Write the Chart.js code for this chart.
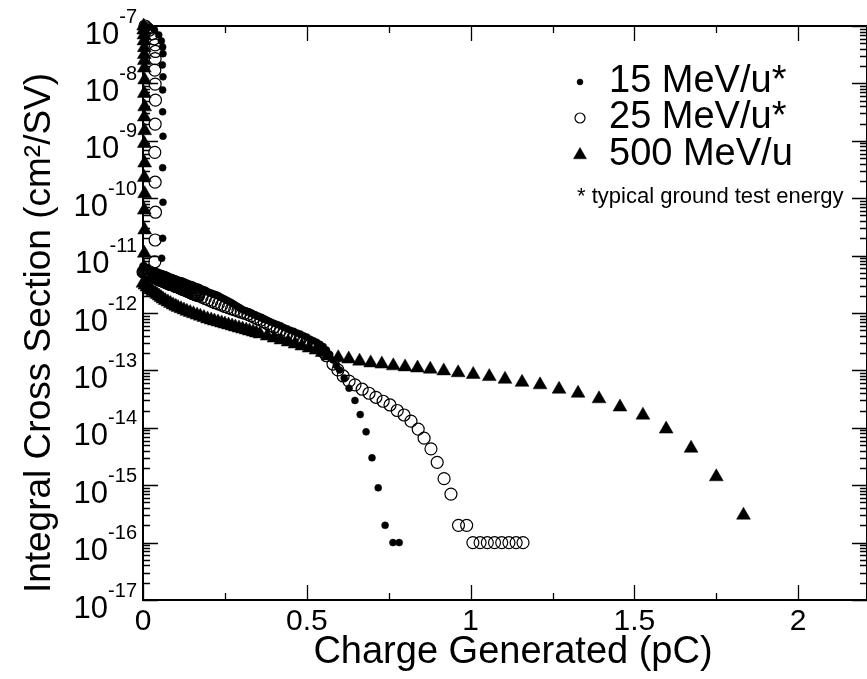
<!DOCTYPE html>
<html>
<head>
<meta charset="utf-8">
<script src="https://cdn.jsdelivr.net/npm/chart.js@4.4.0/dist/chart.umd.min.js"></script>
<style>
  html, body { margin: 0; padding: 0; background: #fff; }
  canvas { display: block; }
</style>
</head>
<body>
<canvas id="xsecChart" width="867" height="679"></canvas>
<script>
// charge generated (pC) and integral cross section (cm^2/SV)
const charge15 = [
  0.008, 0.02, 0.035, 0.048, 0.056, 0.06, 0.061, 0.059, 0.061, 0.06, 0.06, 0.061, 0.06, 0.061, 0.06, 0.057,
  0.00, 0.01, 0.02, 0.03, 0.04, 0.05, 0.06, 0.07, 0.08, 0.09,
  0.10, 0.11, 0.12, 0.13, 0.14, 0.15, 0.16, 0.17, 0.18, 0.19,
  0.20, 0.21, 0.22, 0.23, 0.24, 0.25, 0.26, 0.27, 0.28, 0.29,
  0.30, 0.31, 0.32, 0.33, 0.34, 0.35, 0.36, 0.37, 0.38, 0.39,
  0.40, 0.41, 0.42, 0.43, 0.44, 0.45, 0.46, 0.47, 0.48, 0.49,
  0.50, 0.51, 0.52, 0.53, 0.54, 0.55, 0.56, 0.57, 0.58, 0.59, 0.60,
  0.614, 0.629, 0.647, 0.663, 0.681, 0.699, 0.718, 0.739, 0.763, 0.782,
  0.005, 0.015, 0.025, 0.035, 0.045, 0.055, 0.065, 0.075, 0.085, 0.095,
  0.105, 0.115, 0.125, 0.135, 0.145, 0.155, 0.165, 0.175, 0.185, 0.195,
  0.205, 0.215, 0.225, 0.235, 0.245, 0.255, 0.265, 0.275, 0.285, 0.295
];
const sigma15 = [
  1.0e-7, 9.5e-8, 8.5e-8, 7.0e-8, 5.5e-8, 4.3e-8, 3.3e-8, 2.1e-8, 1.3e-8, 7.7e-9, 3.2e-9, 1.2e-9, 3.4e-10, 8.5e-11, 2.0e-11, 9.0e-12,
  6.6e-12, 6.2e-12, 5.8e-12, 5.5e-12, 5.3e-12, 5.0e-12, 4.8e-12, 4.6e-12, 4.3e-12, 4.1e-12,
  3.9e-12, 3.7e-12, 3.6e-12, 3.4e-12, 3.2e-12, 3.1e-12, 2.9e-12, 2.8e-12, 2.6e-12, 2.5e-12,
  2.3e-12, 2.2e-12, 2.1e-12, 2.0e-12, 1.85e-12, 1.73e-12, 1.62e-12, 1.51e-12, 1.39e-12, 1.28e-12,
  1.19e-12, 1.11e-12, 1.04e-12, 9.8e-13, 9.2e-13, 8.7e-13, 8.2e-13, 7.7e-13, 7.4e-13, 7.0e-13,
  6.6e-13, 6.3e-13, 6.0e-13, 5.6e-13, 5.3e-13, 5.0e-13, 4.8e-13, 4.5e-13, 4.3e-13, 4.0e-13,
  3.8e-13, 3.5e-13, 3.3e-13, 3.1e-13, 2.85e-13, 2.6e-13, 2.26e-13, 1.89e-13, 1.52e-13, 1.22e-13, 1.02e-13,
  7.4e-14, 4.9e-14, 3.0e-14, 1.7e-14, 8.5e-15, 3.0e-15, 9.0e-16, 2.0e-16, 1.0e-16, 1.0e-16,
  6.4e-12, 6.0e-12, 5.65e-12, 5.4e-12, 5.15e-12, 4.9e-12, 4.7e-12, 4.45e-12, 4.2e-12, 4.0e-12,
  3.8e-12, 3.65e-12, 3.5e-12, 3.3e-12, 3.15e-12, 3.0e-12, 2.85e-12, 2.7e-12, 2.55e-12, 2.4e-12,
  2.25e-12, 2.15e-12, 2.05e-12, 1.92e-12, 1.79e-12, 1.67e-12, 1.56e-12, 1.45e-12, 1.33e-12, 1.23e-12
];

const charge25 = [
  0.006, 0.012, 0.02, 0.028, 0.034, 0.037, 0.038, 0.037, 0.036, 0.037, 0.038, 0.037, 0.036, 0.037, 0.038, 0.037, 0.036,
  0.00, 0.01, 0.02, 0.03, 0.04, 0.05, 0.06, 0.07, 0.08, 0.09,
  0.10, 0.11, 0.12, 0.13, 0.14, 0.15, 0.16, 0.17, 0.18, 0.19,
  0.20, 0.21, 0.22, 0.23, 0.24, 0.25, 0.26, 0.27, 0.28, 0.29,
  0.30, 0.31, 0.32, 0.33, 0.34, 0.35, 0.36, 0.37, 0.38, 0.39,
  0.40, 0.41, 0.42, 0.43, 0.44, 0.45, 0.46, 0.47, 0.48, 0.49,
  0.50, 0.51, 0.52, 0.53, 0.54, 0.55, 0.56,
  0.58, 0.595, 0.611, 0.629, 0.647, 0.669, 0.69, 0.711, 0.733, 0.754,
  0.776, 0.797, 0.818, 0.84, 0.858, 0.879, 0.898, 0.919, 0.94,
  0.963, 0.988, 1.007, 1.029, 1.051, 1.073, 1.095, 1.117, 1.139, 1.16,
  0.005, 0.015, 0.025, 0.035, 0.045, 0.055, 0.065, 0.075, 0.085, 0.095,
  0.105, 0.115, 0.125, 0.135, 0.145, 0.155, 0.165,
  0.0025, 0.0075, 0.0125, 0.0175, 0.0225, 0.0275, 0.0325, 0.0375, 0.0425, 0.0475,
  0.0525, 0.0575, 0.0625, 0.0675, 0.0725, 0.0775, 0.0825, 0.0875, 0.0925, 0.0975,
  0.1025, 0.1075, 0.1125, 0.1175, 0.1225, 0.1275, 0.1325, 0.1375, 0.1425, 0.1475,
  0.1525, 0.1575, 0.1625, 0.1675
];
const sigma25 = [
  1.0e-7, 9.3e-8, 8.5e-8, 7.3e-8, 6.0e-8, 4.7e-8, 3.6e-8, 2.7e-8, 1.7e-8, 9.7e-9, 5.1e-9, 1.95e-9, 6.3e-10, 1.9e-10, 5.7e-11, 1.87e-11, 7.8e-12,
  5.2e-12, 4.9e-12, 4.6e-12, 4.3e-12, 4.1e-12, 3.8e-12, 3.6e-12, 3.4e-12, 3.2e-12, 3.1e-12,
  2.9e-12, 2.8e-12, 2.6e-12, 2.5e-12, 2.35e-12, 2.2e-12, 2.1e-12, 2.0e-12, 1.89e-12, 1.79e-12,
  1.69e-12, 1.6e-12, 1.51e-12, 1.44e-12, 1.37e-12, 1.3e-12, 1.24e-12, 1.18e-12, 1.13e-12, 1.08e-12,
  1.03e-12, 9.9e-13, 9.5e-13, 8.9e-13, 8.4e-13, 7.9e-13, 7.5e-13, 7.0e-13, 6.5e-13, 6.1e-13,
  5.7e-13, 5.3e-13, 5.0e-13, 4.7e-13, 4.4e-13, 4.2e-13, 3.9e-13, 3.7e-13, 3.5e-13, 3.3e-13,
  3.15e-13, 3.0e-13, 2.8e-13, 2.6e-13, 2.4e-13, 2.1e-13, 1.8e-13,
  1.29e-13, 1.02e-13, 8.0e-14, 6.5e-14, 5.6e-14, 4.7e-14, 4.0e-14, 3.4e-14, 2.9e-14, 2.5e-14,
  2.0e-14, 1.67e-14, 1.31e-14, 9.5e-15, 6.6e-15, 4.3e-15, 2.5e-15, 1.3e-15, 7.0e-16,
  2.0e-16, 2.0e-16, 1.0e-16, 1.0e-16, 1.0e-16, 1.0e-16, 1.0e-16, 1.0e-16, 1.0e-16, 1.0e-16,
  5.05e-12, 4.75e-12, 4.45e-12, 4.2e-12, 3.95e-12, 3.7e-12, 3.5e-12, 3.3e-12, 3.15e-12, 3.0e-12,
  2.85e-12, 2.7e-12, 2.55e-12, 2.42e-12, 2.27e-12, 2.15e-12, 2.05e-12,
  5.12e-12, 4.97e-12, 4.82e-12, 4.67e-12, 4.52e-12, 4.37e-12, 4.25e-12, 4.15e-12, 4.02e-12, 3.87e-12,
  3.75e-12, 3.65e-12, 3.55e-12, 3.45e-12, 3.35e-12, 3.25e-12, 3.17e-12, 3.12e-12, 3.05e-12, 2.95e-12,
  2.87e-12, 2.82e-12, 2.75e-12, 2.65e-12, 2.57e-12, 2.52e-12, 2.46e-12, 2.38e-12, 2.31e-12, 2.23e-12,
  2.17e-12, 2.12e-12, 2.07e-12, 2.02e-12
];

const charge500 = [
  0.002, 0.002, 0.003, 0.003, 0.004, 0.004, 0.004,
  0.004, 0.005, 0.004, 0.005, 0.004, 0.005, 0.004, 0.005, 0.004, 0.005, 0.004, 0.005, 0.004, 0.003,
  0.0, 0.012, 0.024, 0.037, 0.049, 0.061, 0.076, 0.092, 0.107, 0.125,
  0.144, 0.165, 0.186, 0.208, 0.229, 0.25, 0.272, 0.293, 0.315, 0.336,
  0.357, 0.379, 0.4, 0.421, 0.443, 0.464, 0.485, 0.507, 0.528, 0.547,
  0.565, 0.596, 0.628, 0.661, 0.695, 0.729, 0.764, 0.80, 0.838, 0.877,
  0.918, 0.962, 1.008, 1.057, 1.105, 1.157, 1.212, 1.27, 1.328, 1.392,
  1.456, 1.526, 1.597, 1.673, 1.75, 1.833,
  0.006, 0.018, 0.030, 0.043, 0.055, 0.068, 0.084, 0.100, 0.116, 0.134,
  0.154, 0.175, 0.197, 0.218, 0.24, 0.261, 0.282, 0.304, 0.325, 0.346
];
const sigma500 = [
  1.0e-7, 8.5e-8, 7.0e-8, 5.5e-8, 4.2e-8, 3.2e-8, 2.5e-8,
  1.85e-8, 1.15e-8, 6.7e-9, 3.9e-9, 2.6e-9, 1.5e-9, 9.0e-10, 4.1e-10, 2.3e-10, 1.2e-10, 6.2e-11, 2.8e-11, 1.1e-11, 6.3e-12,
  3.3e-12, 2.84e-12, 2.52e-12, 2.23e-12, 1.98e-12, 1.75e-12, 1.56e-12, 1.38e-12, 1.25e-12, 1.13e-12,
  1.02e-12, 9.2e-13, 8.35e-13, 7.55e-13, 6.97e-13, 6.43e-13, 5.94e-13, 5.48e-13, 5.06e-13, 4.67e-13,
  4.31e-13, 3.97e-13, 3.66e-13, 3.39e-13, 3.13e-13, 2.88e-13, 2.66e-13, 2.45e-13, 2.26e-13, 2.05e-13,
  1.78e-13, 1.66e-13, 1.58e-13, 1.45e-13, 1.35e-13, 1.29e-13, 1.2e-13, 1.15e-13, 1.1e-13, 1.05e-13,
  9.8e-14, 9.1e-14, 8.5e-14, 7.8e-14, 7.0e-14, 6.2e-14, 5.6e-14, 4.7e-14, 4.0e-14, 3.2e-14,
  2.3e-14, 1.66e-14, 9.5e-15, 4.4e-15, 1.4e-15, 3.0e-16,
  3.06e-12, 2.68e-12, 2.37e-12, 2.1e-12, 1.86e-12, 1.65e-12, 1.47e-12, 1.31e-12, 1.19e-12, 1.07e-12,
  9.7e-13, 8.8e-13, 7.9e-13, 7.25e-13, 6.7e-13, 6.2e-13, 5.7e-13, 5.27e-13, 4.86e-13, 4.49e-13
];

const seriesLabels = ['15 MeV/u*', '25 MeV/u*', '500 MeV/u'];
const footnote = '* typical ground test energy';
const xTitle = 'Charge Generated (pC)';
const yTitle = 'Integral Cross Section (cm\u00B2/SV)';
const xMajorTicks = [0, 0.5, 1, 1.5, 2];
const xTickLabels = ['0', '0.5', '1', '1.5', '2'];
const xMinorTicks = [0.25, 0.75, 1.25, 1.75];
const yExponents = [-17, -16, -15, -14, -13, -12, -11, -10, -9, -8, -7];

const FONT = "'Liberation Sans', Arial, Helvetica, sans-serif";

const pts = (xs, ys) => xs.map((q, i) => ({ x: q, y: ys[i] }));

const markerStyles = [
  { pointStyle: 'circle', radius: 3.5, fill: '#000', borderWidth: 0.5 },
  { pointStyle: 'circle', radius: 6, fill: 'rgba(0,0,0,0)', borderWidth: 1.2 },
  { pointStyle: 'triangle', radius: 8, fill: '#000', borderWidth: 0.5 }
];

const framePlugin = {
  id: 'graceFrame',
  afterDatasetsDraw(chart) {
    const { ctx, chartArea: a } = chart;
    const xs = chart.scales.x;
    const ys = chart.scales.y;
    ctx.save();
    ctx.strokeStyle = '#000';
    ctx.fillStyle = '#000';

    // frame
    ctx.lineWidth = 2;
    ctx.strokeRect(a.left, a.top, a.right - a.left, a.bottom - a.top);

    // inward ticks on all four sides
    ctx.lineWidth = 1.3;
    ctx.beginPath();
    const vTick = (v, len) => {
      const px = Math.round(xs.getPixelForValue(v)) + 0.5;
      ctx.moveTo(px, a.bottom); ctx.lineTo(px, a.bottom - len);
      ctx.moveTo(px, a.top); ctx.lineTo(px, a.top + len);
    };
    const hTick = (v, len) => {
      const py = Math.round(ys.getPixelForValue(v)) + 0.5;
      ctx.moveTo(a.left, py); ctx.lineTo(a.left + len, py);
      ctx.moveTo(a.right, py); ctx.lineTo(a.right - len, py);
    };
    xMajorTicks.forEach(v => vTick(v, 15));
    xMinorTicks.forEach(v => vTick(v, 7));
    yExponents.forEach((e, i) => {
      hTick(Math.pow(10, e), 15);
      if (i < yExponents.length - 1) {
        for (let m = 2; m <= 9; m++) hTick(m * Math.pow(10, e), 7);
      }
    });
    ctx.stroke();

    // x tick labels
    ctx.font = '30px ' + FONT;
    ctx.textAlign = 'center';
    ctx.textBaseline = 'middle';
    xMajorTicks.forEach((v, i) => {
      ctx.fillText(xTickLabels[i], xs.getPixelForValue(v), 622);
    });

    // y tick labels 10^n
    ctx.textAlign = 'right';
    yExponents.forEach(e => {
      const py = ys.getPixelForValue(Math.pow(10, e));
      const sup = String(e);
      ctx.font = '20px ' + FONT;
      const supW = ctx.measureText(sup).width;
      ctx.fillText(sup, 137, py - 9);
      ctx.font = '31px ' + FONT;
      ctx.fillText('10', 137 - supW, py + 9);
    });

    // axis titles
    ctx.textAlign = 'center';
    ctx.font = '38px ' + FONT;
    ctx.fillText(xTitle, 513, 653);
    ctx.save();
    ctx.translate(40, 333);
    ctx.rotate(-Math.PI / 2);
    ctx.font = '37px ' + FONT;
    ctx.fillText(yTitle, 0, 0);
    ctx.restore();

    // legend
    const rows = [82, 118, 155];
    rows.forEach((ry, i) => {
      const s = markerStyles[i];
      ctx.fillStyle = s.fill;
      ctx.strokeStyle = '#000';
      ctx.lineWidth = s.borderWidth;
      Chart.helpers.drawPoint(ctx, {
        pointStyle: s.pointStyle,
        radius: i === 0 ? 3 : (i === 1 ? 5 : 7.5),
        rotation: 0,
        borderWidth: s.borderWidth
      }, 580, ry);
      ctx.fillStyle = '#000';
      ctx.font = '38px ' + FONT;
      ctx.textAlign = 'left';
      ctx.fillText(seriesLabels[i], 609, ry);
    });
    ctx.font = '22px ' + FONT;
    ctx.fillText(footnote, 577, 197);

    ctx.restore();
  }
};

new Chart(document.getElementById('xsecChart'), {
  type: 'scatter',
  data: {
    datasets: [
      { label: seriesLabels[0], data: pts(charge15, sigma15) },
      { label: seriesLabels[1], data: pts(charge25, sigma25) },
      { label: seriesLabels[2], data: pts(charge500, sigma500) }
    ].map((ds, i) => Object.assign(ds, {
      pointStyle: markerStyles[i].pointStyle,
      pointRadius: markerStyles[i].radius,
      pointHoverRadius: markerStyles[i].radius,
      pointBackgroundColor: markerStyles[i].fill,
      backgroundColor: markerStyles[i].fill,
      pointBorderColor: '#000',
      borderColor: '#000',
      pointBorderWidth: markerStyles[i].borderWidth,
      showLine: false,
      clip: false
    }))
  },
  options: {
    responsive: false,
    devicePixelRatio: 1,
    animation: false,
    events: [],
    layout: { autoPadding: false, padding: { left: 143, top: 26, right: 0, bottom: 79 } },
    scales: {
      x: { type: 'linear', min: 0, max: 2.21, display: false },
      y: { type: 'logarithmic', min: 1e-17, max: 1e-7, display: false }
    },
    plugins: {
      legend: { display: false },
      tooltip: { enabled: false }
    }
  },
  plugins: [framePlugin]
});
</script>
</body>
</html>
